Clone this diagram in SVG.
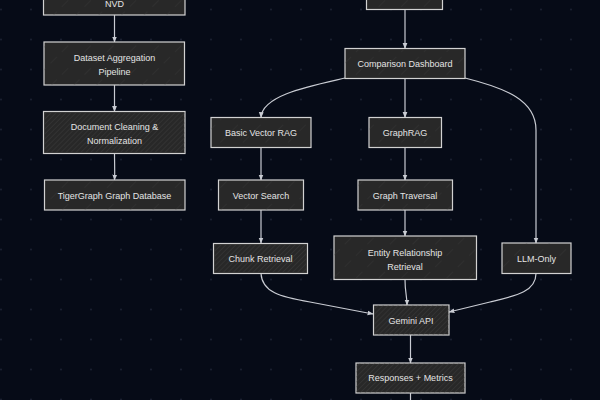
<svg xmlns="http://www.w3.org/2000/svg" width="600" height="400" viewBox="0 0 600 400">
<style>
.bg{fill:#060b17}
.box{fill:#282828;stroke:#d2d2d2;stroke-width:1.2}
.hd{fill:url(#hatchDense)}
.hs{fill:url(#hatchSparse)}
.lbl{font-family:"Liberation Sans",Arial,sans-serif;font-size:9px;fill:#e4e4e4;text-anchor:middle}
.edge{fill:none;stroke:#c9ccd3;stroke-width:1.2}
</style>
<defs>
<pattern id="dots" width="30" height="30" patternUnits="userSpaceOnUse">
<circle cx="1" cy="9.5" r="1" fill="#1b2131"/>
</pattern>
<pattern id="hatchDense" width="3.5" height="3.5" patternUnits="userSpaceOnUse" patternTransform="rotate(45)">
<line x1="0" y1="0" x2="0" y2="3.5" stroke="#3b3b3b" stroke-width="1"/>
</pattern>
<pattern id="hatchSparse" width="16" height="16" patternUnits="userSpaceOnUse" patternTransform="rotate(45)">
<line x1="0" y1="0" x2="0" y2="9" stroke="#383838" stroke-width="0.8"/>
</pattern>
<marker id="arr" viewBox="0 0 10 10" refX="9" refY="5" markerWidth="6" markerHeight="6" orient="auto-start-reverse" markerUnits="userSpaceOnUse">
<path d="M0,1 L10,5 L0,9 Z" fill="#c9ccd3"/>
</marker>
</defs>
<rect class="bg" x="0" y="0" width="600" height="400"/>
<rect fill="url(#dots)" x="0" y="0" width="600" height="400"/>

<g id="edges">
<path class="edge" marker-end="url(#arr)" d="M114.5,15 L114.5,42"/>
<path class="edge" marker-end="url(#arr)" d="M114.5,85 L114.5,111.5"/>
<path class="edge" marker-end="url(#arr)" d="M114.5,153.5 C114.5,165 115,170 114.5,180"/>
<path class="edge" marker-end="url(#arr)" d="M405,9.5 L405,48.5"/>
<path class="edge" marker-end="url(#arr)" d="M345,78 C310,86 262,95 261,117.5"/>
<path class="edge" marker-end="url(#arr)" d="M405,78.5 L405,117.5"/>
<path class="edge" marker-end="url(#arr)" d="M465,78 C505,88 536,100 536,130 L536,243"/>
<path class="edge" marker-end="url(#arr)" d="M261,147.5 L261,180"/>
<path class="edge" marker-end="url(#arr)" d="M405,147.5 L405,180"/>
<path class="edge" marker-end="url(#arr)" d="M261,210 L261,243"/>
<path class="edge" marker-end="url(#arr)" d="M405,210 L405,236"/>
<path class="edge" marker-end="url(#arr)" d="M261,273.5 C262,292 280,297 310,302 L373,314"/>
<path class="edge" marker-end="url(#arr)" d="M405,279.5 C405,292 407,296 407,305"/>
<path class="edge" marker-end="url(#arr)" d="M536,273.5 C536,292 515,296 490,302 L449,312"/>
<path class="edge" marker-end="url(#arr)" d="M410.5,335 L410.5,363"/>
<path class="edge" d="M410.5,393 L410.5,400"/>
</g>

<g id="nvd">
<rect class="box" x="43.5" y="-14" width="141.5" height="29"/>
<rect class="hs" x="44" y="-14" width="140.5" height="28.5"/>
<text class="lbl" x="114.5" y="6.5">NVD</text>
</g>
<g id="dataset-aggregation">
<rect class="box" x="44" y="42" width="140.5" height="43"/>
<rect class="hs" x="44.5" y="42.5" width="139.5" height="42"/>
<text class="lbl" x="114.5" y="60.5">Dataset Aggregation</text>
<text class="lbl" x="114.5" y="74.5">Pipeline</text>
</g>
<g id="document-cleaning">
<rect class="box" x="43.5" y="111.5" width="141.5" height="42"/>
<rect class="hd" x="44" y="112" width="140.5" height="41"/>
<text class="lbl" x="114.5" y="129.5">Document Cleaning &amp;</text>
<text class="lbl" x="114.5" y="143.5">Normalization</text>
</g>
<g id="tigergraph">
<rect class="box" x="44.5" y="180" width="140.5" height="30"/>
<rect class="hs" x="45" y="180.5" width="139.5" height="29"/>
<text class="lbl" x="114.5" y="198.5">TigerGraph Graph Database</text>
</g>
<g id="top-node">
<rect class="box" x="366.5" y="-14" width="76" height="23.5"/>
<rect class="hs" x="367" y="-14" width="75" height="23"/>
</g>
<g id="comparison-dashboard">
<rect class="box" x="345" y="48.5" width="120" height="30"/>
<rect class="hs" x="345.5" y="49" width="119" height="29"/>
<text class="lbl" x="405" y="66.5">Comparison Dashboard</text>
</g>
<g id="basic-vector-rag">
<rect class="box" x="211" y="117.5" width="100" height="30"/>
<rect class="hs" x="211.5" y="118" width="99" height="29"/>
<text class="lbl" x="261" y="135.5">Basic Vector RAG</text>
</g>
<g id="graphrag">
<rect class="box" x="369" y="117.5" width="72.5" height="30"/>
<rect class="hs" x="369.5" y="118" width="71.5" height="29"/>
<text class="lbl" x="405" y="135.5">GraphRAG</text>
</g>
<g id="vector-search">
<rect class="box" x="218.5" y="180" width="85" height="30"/>
<rect class="hs" x="219" y="180.5" width="84" height="29"/>
<text class="lbl" x="261" y="198.5">Vector Search</text>
</g>
<g id="graph-traversal">
<rect class="box" x="358" y="180" width="94.5" height="30"/>
<rect class="hs" x="358.5" y="180.5" width="93.5" height="29"/>
<text class="lbl" x="405" y="198.5">Graph Traversal</text>
</g>
<g id="chunk-retrieval">
<rect class="box" x="213.5" y="243.5" width="94" height="30"/>
<rect class="hd" x="214" y="244" width="93" height="29"/>
<text class="lbl" x="260.5" y="261.5">Chunk Retrieval</text>
</g>
<g id="entity-relationship">
<rect class="box" x="334" y="236" width="142.5" height="43.5"/>
<rect class="hs" x="334.5" y="236.5" width="141.5" height="42.5"/>
<text class="lbl" x="405" y="255.5">Entity Relationship</text>
<text class="lbl" x="405" y="269.5">Retrieval</text>
</g>
<g id="llm-only">
<rect class="box" x="502" y="243" width="69" height="30.5"/>
<rect class="hs" x="502.5" y="243.5" width="68" height="29.5"/>
<text class="lbl" x="536.5" y="261.5">LLM-Only</text>
</g>
<g id="gemini-api">
<rect class="box" x="373.5" y="305" width="75.5" height="30"/>
<rect class="hd" x="374" y="305.5" width="74.5" height="29"/>
<text class="lbl" x="411" y="323.5">Gemini API</text>
</g>
<g id="responses-metrics">
<rect class="box" x="356" y="363" width="109" height="30"/>
<rect class="hd" x="356.5" y="363.5" width="108" height="29"/>
<text class="lbl" x="410.5" y="381">Responses + Metrics</text>
</g>
</svg>
